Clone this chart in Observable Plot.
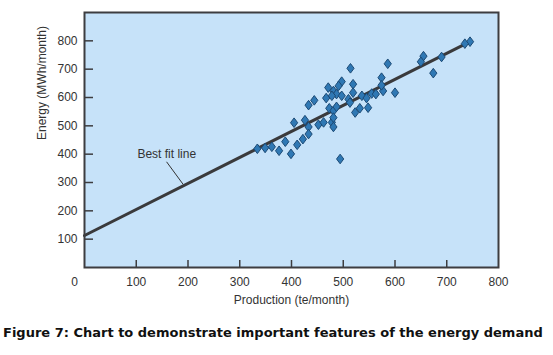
<!DOCTYPE html>
<html>
<head>
<meta charset="utf-8">
<script src="https://cdn.jsdelivr.net/npm/d3@7"></script>
<script src="https://cdn.jsdelivr.net/npm/@observablehq/plot@0.6"></script>
<style>
  html, body { margin: 0; padding: 0; background: #ffffff; }
  #chart { width: 553px; }
  #caption {
    font-family: "DejaVu Sans", Verdana, sans-serif;
    font-weight: bold;
    font-size: 13px;
    color: #111;
    margin: 10px 0 0 3px;
    white-space: nowrap;
  }
</style>
</head>
<body>
<div id="chart"></div>
<div id="caption">Figure 7: Chart to demonstrate important features of the energy demand</div>
<script>
// Production (te/month)
const production = [745, 735, 655, 650, 690, 674, 586, 514, 574, 600, 577, 574, 519, 519, 497, 491, 471, 481, 487, 467, 478, 497, 510, 513, 536, 545, 555, 563, 548, 532, 523, 444, 433, 473, 481, 487, 426, 433, 452, 462, 478, 481, 433, 422, 494, 481, 334, 349, 362, 376, 388, 399, 405, 411];
// Energy (MWh/month)
const energy = [797, 790, 746, 726, 743, 686, 719, 703, 670, 617, 623, 643, 647, 617, 656, 641, 635, 623, 612, 598, 606, 606, 594, 582, 606, 598, 614, 612, 564, 562, 547, 590, 573, 562, 553, 567, 520, 496, 504, 512, 512, 496, 471, 453, 383, 529, 419, 422, 426, 412, 444, 401, 511, 433];
// best fit line end points
const fitX = [0, 745];
const fitY = [113, 797];
const xTickLabels = [0, 100, 200, 300, 400, 500, 600, 700, 800];
const xTickMarks = [100, 200, 300, 400, 500, 600, 700];
const yTicks = [100, 200, 300, 400, 500, 600, 700, 800];
const annotation = ["Best fit line"];
const annotationX = [159];
const annotationY = [401];
const leaderX = [159, 190];
const leaderY = [372, 295];

const points = production.map((p, i) => ({production: p, energy: energy[i]}));
const fit = fitX.map((x, i) => ({x, y: fitY[i]}));

const diamond = {
  draw(ctx, size) {
    const w = 3.6, h = 4.8;
    ctx.moveTo(0, -h);
    ctx.lineTo(w, 0);
    ctx.lineTo(0, h);
    ctx.lineTo(-w, 0);
    ctx.closePath();
  }
};

const font = "Liberation Sans, Arial, sans-serif";

const chart = Plot.plot({
  width: 553,
  height: 315,
  marginTop: 12,
  marginBottom: 48,
  marginLeft: 84,
  marginRight: 55,
  style: {fontFamily: font, fontSize: "12px", color: "#333", background: "transparent"},
  x: {domain: [0, 800], label: null},
  y: {domain: [0, 900], label: null},
  marks: [
    Plot.frame({fill: "#c6e2f9", stroke: null}),
    Plot.line(fit, {x: "x", y: "y", stroke: "#3a3a3c", strokeWidth: 3}),
    Plot.line(leaderX.map((x, i) => ({x, y: leaderY[i]})), {x: "x", y: "y", stroke: "#333", strokeWidth: 1}),
    Plot.dot(points, {x: "production", y: "energy", symbol: diamond, fill: "#2f78b4", stroke: "#1c4a75", strokeWidth: 1}),
    Plot.text(annotation, {x: annotationX, y: annotationY, text: d => d, fontSize: 12, fill: "#333"}),
    Plot.frame({stroke: "#3d3d40", strokeWidth: 2}),
    Plot.axisX({ticks: xTickMarks, tickSize: -7, text: null, stroke: "#3d3d40", strokeWidth: 1.5}),
    Plot.axisX({ticks: xTickLabels.slice(1), tickSize: 0, tickPadding: 10, fill: "#333", label: null}),
    Plot.axisX({ticks: [0], tickSize: 0, tickPadding: 10, dx: -10, fill: "#333", label: null}),
    Plot.axisY({ticks: yTicks, tickSize: -9, text: null, stroke: "#3d3d40", strokeWidth: 1.5}),
    Plot.axisY({ticks: yTicks, tickSize: 0, tickPadding: 7, fill: "#333", label: null}),
    Plot.text(["Production (te/month)"], {frameAnchor: "bottom", dy: 36, text: d => d, fontSize: 12, fill: "#333"}),
    Plot.text(["Energy (MWh/month)"], {frameAnchor: "left", dx: -42, rotate: -90, text: d => d, fontSize: 12, fill: "#333"})
  ]
});
document.getElementById("chart").appendChild(chart);
</script>
</body>
</html>
